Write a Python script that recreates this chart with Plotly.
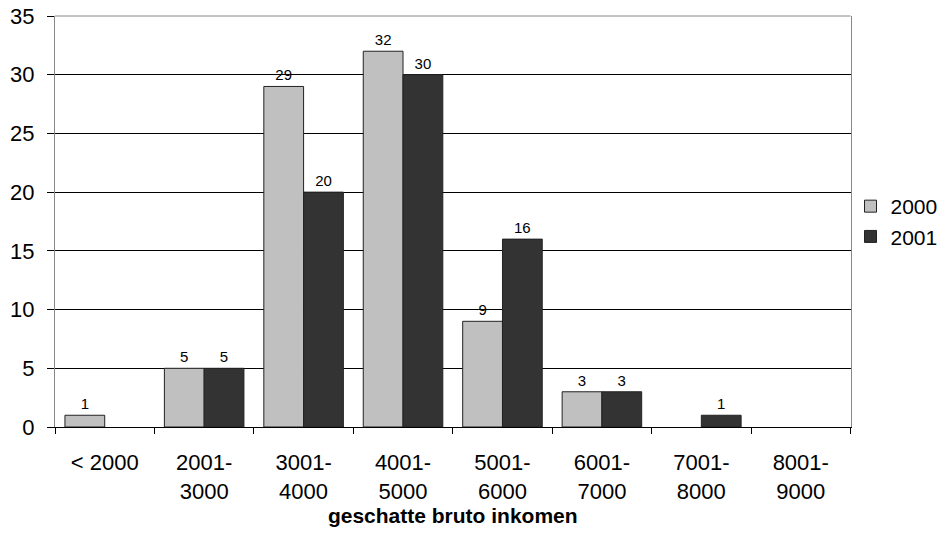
import plotly.graph_objects as go

categories = ["< 2000", "2001-<br>3000", "3001-<br>4000", "4001-<br>5000",
              "5001-<br>6000", "6001-<br>7000", "7001-<br>8000", "8001-<br>9000"]
values_2000 = [1, 5, 29, 32, 9, 3, None, None]
values_2001 = [None, 5, 20, 30, 16, 3, 1, None]

fig = go.Figure()

for name, vals, color in [("2000", values_2000, "#c0c0c0"), ("2001", values_2001, "#333333")]:
    fig.add_trace(
        go.Bar(
            name=name,
            x=categories,
            y=vals,
            marker=dict(color=color, line=dict(color="#222222", width=1)),
            text=[str(v) if v is not None else "" for v in vals],
            textposition="outside",
            textfont=dict(size=15, color="black"),
            cliponaxis=False,
        )
    )

fig.update_layout(
    width=945,
    height=556,
    margin=dict(l=55, r=90, t=16, b=129),
    paper_bgcolor="white",
    plot_bgcolor="white",
    font=dict(family="Liberation Sans, Arial, sans-serif", size=22, color="black"),
    barmode="group",
    bargap=0.2,
    bargroupgap=0,
    showlegend=True,
    legend=dict(xref="container", x=0.9, y=0.5, xanchor="left", yanchor="middle",
                yref="paper", bgcolor="rgba(0,0,0,0)",
                font=dict(size=21), tracegroupgap=0, itemwidth=30),
    xaxis=dict(
        automargin=False,
        showline=True, linecolor="black", linewidth=1,
        ticks="outside", tickson="boundaries", ticklen=6, tickcolor="black",
        ticklabelstandoff=16,
        showgrid=False,
        title=dict(text="<b>geschatte bruto inkomen</b>", font=dict(size=21), standoff=5),
    ),
    yaxis=dict(
        automargin=False,
        range=[0, 35], dtick=5,
        showline=True, linecolor="#888888", linewidth=1, mirror=True,
        ticks="outside", ticklen=7, tickcolor="black",
        ticklabelstandoff=8,
        gridcolor="black", gridwidth=1,
        zeroline=False,
    ),
    shapes=[
        dict(type="line", xref="paper", yref="paper", x0=0, x1=1, y0=1, y1=1,
             line=dict(color="#888888", width=1)),
    ],
)

fig.write_html("out.html", config={"displayModeBar": False},
               post_script="document.body.style.margin='0px';")
